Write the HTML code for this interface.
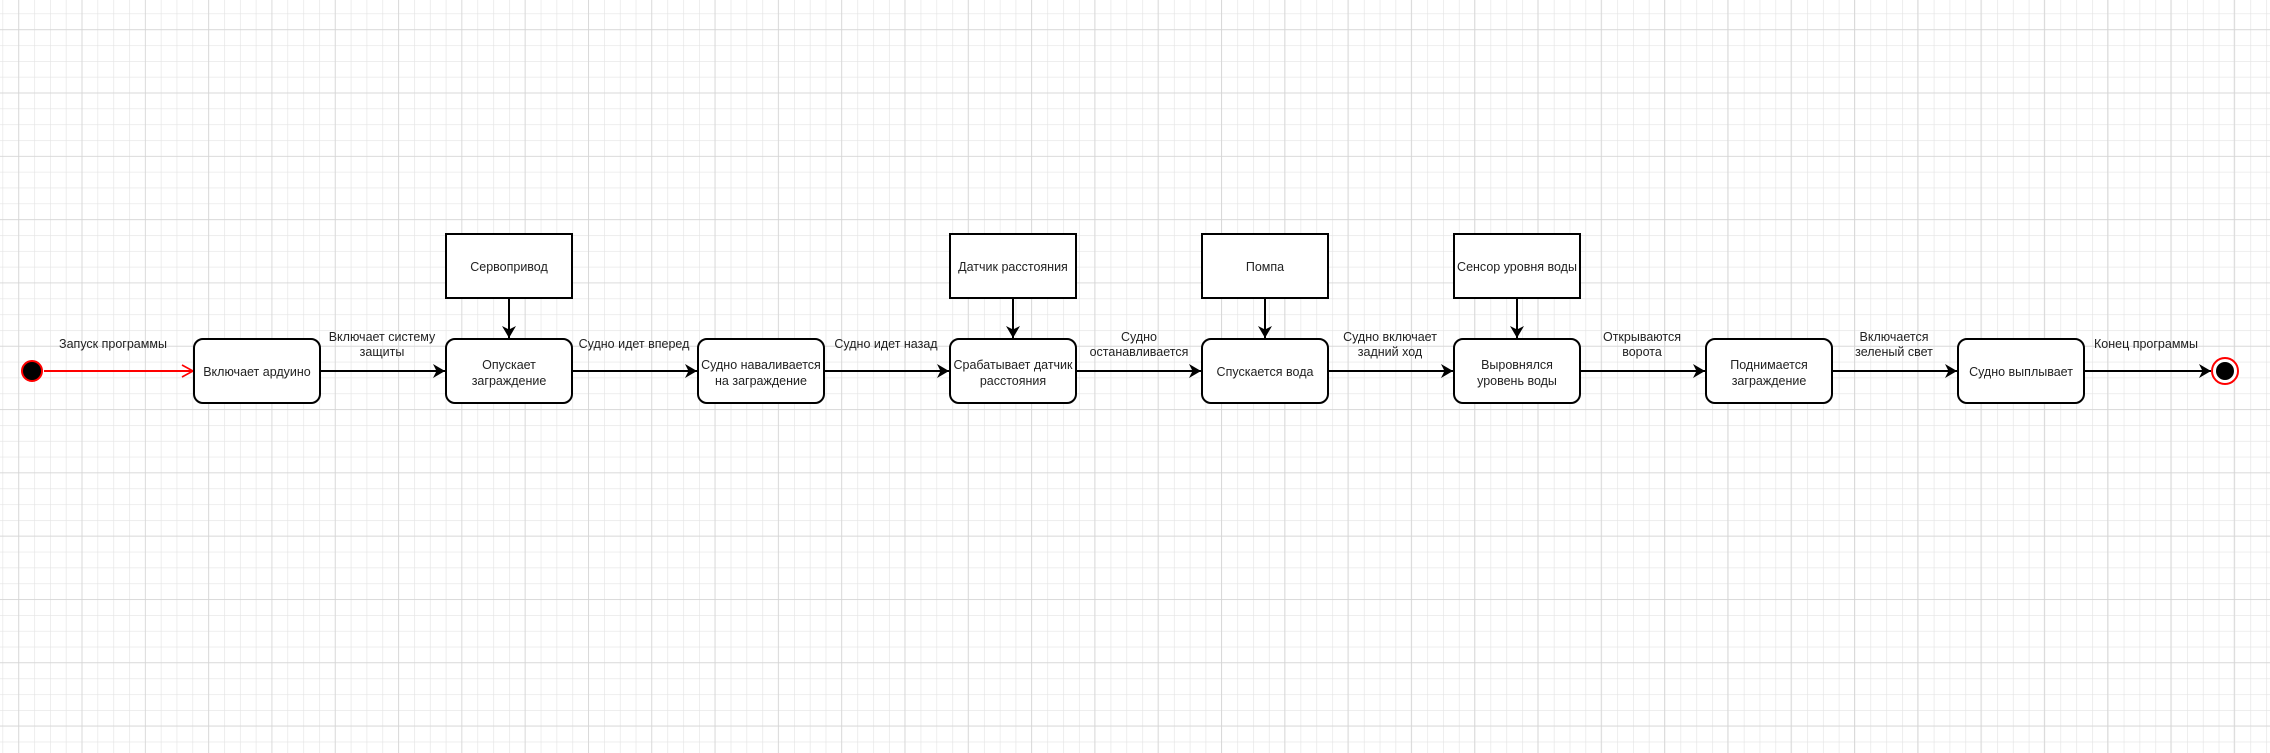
<!DOCTYPE html>
<html><head><meta charset="utf-8"><style>
html,body{margin:0;padding:0;background:#fff}
svg{display:block}
text{font-family:"Liberation Sans",sans-serif;font-size:12.5px;fill:#222}
</style></head><body>
<svg width="2270" height="753" xmlns="http://www.w3.org/2000/svg">
<defs>
<pattern id="minor" x="2.5" y="13.5" width="15.83" height="15.83" patternUnits="userSpaceOnUse">
<path d="M0 0H15.83M0 0V15.83" stroke="#e4e4e4" stroke-width="1.3" fill="none"/>
</pattern>
<pattern id="major" x="18.3" y="29.3" width="63.3" height="63.3" patternUnits="userSpaceOnUse">
<path d="M0 0H63.3M0 0V63.3" stroke="#d4d4d4" stroke-width="1.5" fill="none"/>
</pattern>
<marker id="ab" markerWidth="14" markerHeight="14" refX="12" refY="7" orient="auto" markerUnits="userSpaceOnUse">
<path d="M0 0L12 7L0 14L3.5 7Z" fill="#000"/>
</marker>
<marker id="ar" markerWidth="14" markerHeight="14" refX="12" refY="7" orient="auto" markerUnits="userSpaceOnUse">
<path d="M1 1L12 7L1 13" fill="none" stroke="#f00" stroke-width="1.6"/>
</marker>
</defs>
<rect width="2270" height="753" fill="url(#minor)"/>
<rect width="2270" height="753" fill="url(#major)"/>

<circle cx="32" cy="371" r="10" fill="#000" stroke="#f00" stroke-width="2"/>
<line x1="44" y1="371" x2="193" y2="371" stroke="#f00" stroke-width="2" marker-end="url(#ar)"/>

<g fill="#fff" stroke="#000" stroke-width="2">
<rect x="194" y="339" width="126" height="64" rx="9"/>
<rect x="446" y="339" width="126" height="64" rx="9"/>
<rect x="698" y="339" width="126" height="64" rx="9"/>
<rect x="950" y="339" width="126" height="64" rx="9"/>
<rect x="1202" y="339" width="126" height="64" rx="9"/>
<rect x="1454" y="339" width="126" height="64" rx="9"/>
<rect x="1706" y="339" width="126" height="64" rx="9"/>
<rect x="1958" y="339" width="126" height="64" rx="9"/>
<rect x="446" y="234" width="126" height="64"/>
<rect x="950" y="234" width="126" height="64"/>
<rect x="1202" y="234" width="126" height="64"/>
<rect x="1454" y="234" width="126" height="64"/>
</g>

<g stroke="#000" stroke-width="2" marker-end="url(#ab)">
<line x1="320" y1="371" x2="445" y2="371"/>
<line x1="572" y1="371" x2="697" y2="371"/>
<line x1="824" y1="371" x2="949" y2="371"/>
<line x1="1076" y1="371" x2="1201" y2="371"/>
<line x1="1328" y1="371" x2="1453" y2="371"/>
<line x1="1580" y1="371" x2="1705" y2="371"/>
<line x1="1832" y1="371" x2="1957" y2="371"/>
<line x1="2084" y1="371" x2="2211" y2="371"/>
<line x1="509" y1="298" x2="509" y2="338"/>
<line x1="1013" y1="298" x2="1013" y2="338"/>
<line x1="1265" y1="298" x2="1265" y2="338"/>
<line x1="1517" y1="298" x2="1517" y2="338"/>
</g>

<circle cx="2225" cy="371" r="13" fill="#fff" stroke="#f00" stroke-width="2"/>
<circle cx="2225" cy="371" r="9" fill="#000"/>

<g text-anchor="middle">
<text x="257" y="376">Включает ардуино</text>
<text x="509" y="369">Опускает</text>
<text x="509" y="385">заграждение</text>
<text x="761" y="369">Судно наваливается</text>
<text x="761" y="385">на заграждение</text>
<text x="1013" y="369">Срабатывает датчик</text>
<text x="1013" y="385">расстояния</text>
<text x="1265" y="376">Спускается вода</text>
<text x="1517" y="369">Выровнялся</text>
<text x="1517" y="385">уровень воды</text>
<text x="1769" y="369">Поднимается</text>
<text x="1769" y="385">заграждение</text>
<text x="2021" y="376">Судно выплывает</text>
<text x="509" y="271">Сервопривод</text>
<text x="1013" y="271">Датчик расстояния</text>
<text x="1265" y="271">Помпа</text>
<text x="1517" y="271">Сенсор уровня воды</text>

<text x="113" y="348">Запуск программы</text>
<text x="382" y="341">Включает систему</text>
<text x="382" y="356">защиты</text>
<text x="634" y="348">Судно идет вперед</text>
<text x="886" y="348">Судно идет назад</text>
<text x="1139" y="341">Судно</text>
<text x="1139" y="356">останавливается</text>
<text x="1390" y="341">Судно включает</text>
<text x="1390" y="356">задний ход</text>
<text x="1642" y="341">Открываются</text>
<text x="1642" y="356">ворота</text>
<text x="1894" y="341">Включается</text>
<text x="1894" y="356">зеленый свет</text>
<text x="2146" y="348">Конец программы</text>
</g>
</svg>
</body></html>
